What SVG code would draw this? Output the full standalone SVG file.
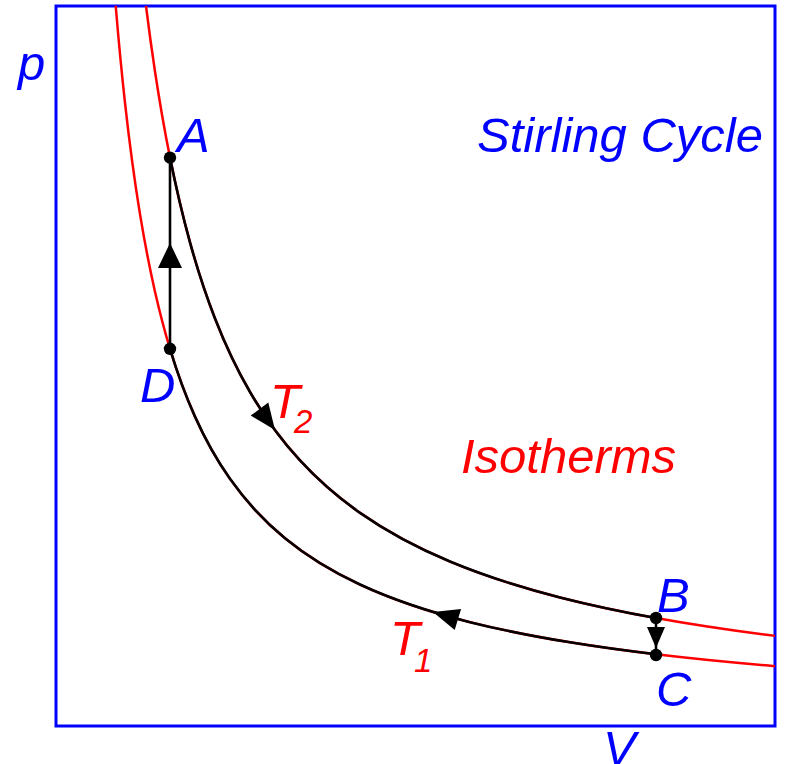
<svg xmlns="http://www.w3.org/2000/svg" width="785" height="764" viewBox="0 0 785 764">
<style>
.lbl{font-family:"Liberation Sans",Arial,sans-serif;font-style:italic;font-size:49px}
.blue{fill:#0000ff}
.red{fill:#ff0000}
.sub{font-size:33px}
.iso{fill:none;stroke:#ff0000;stroke-width:2.5}
.path{fill:none;stroke:#000;stroke-width:2.6}
.arrow{fill:#000}
</style>
<rect x="0" y="0" width="785" height="764" fill="#fff"/>
<g id="frame">
<rect x="56" y="6" width="719" height="720" fill="none" stroke="#0000ff" stroke-width="3"/>
</g>
<g id="isotherms">
<path id="isoT2" class="iso" d="M146,6 C149,30 152,51.61 155,71.45 C160,104.51 165,132.65 170,157.58 C176.67,190.82 183.33,218.36 190,242.42 C198.33,272.5 206.67,297.09 215,318.45 C226.67,348.35 238.33,371.89 250,391.98 C266.67,420.68 283.33,442.3 300,460.43 C320,482.19 340,498.82 360,512.84 C390,533.87 420,549.01 450,561.53 C486.67,576.83 523.33,588.08 560,597.43 C592,605.59 624,612.24 656,618 C695.67,625.14 735.33,630.91 775,635.88"/>
<path id="isoT1" class="iso" d="M115.7,5.73 C118.8,43.13 121.9,74.81 125,102.81 C130,147.97 135,183.63 140,214.1 C145,244.57 150,269.72 155,291.66 C160,313.6 165,332.26 170,348.81 C178.33,376.39 186.67,398.1 195,416.65 C206.67,442.62 218.33,462.3 230,478.87 C248.33,504.9 266.67,523.2 285,538.23 C310,558.73 335,572.92 360,584.55 C396.67,601.61 433.33,612.94 470,622.14 C503.33,630.5 536.67,636.91 570,642.34 C598.67,647.01 627.33,650.91 656,654.33 C695.67,659.07 735.33,662.89 775,666.19"/>
</g>
<g id="connectors">
<path id="AB" class="path" d="M170,157.58 C176.67,190.82 183.33,218.36 190,242.42 C198.33,272.5 206.67,297.09 215,318.45 C226.67,348.35 238.33,371.89 250,391.98 C266.67,420.68 283.33,442.3 300,460.43 C320,482.19 340,498.82 360,512.84 C390,533.87 420,549.01 450,561.53 C486.67,576.83 523.33,588.08 560,597.43 C592,605.59 624,612.24 656,618"/>
<path id="DC" class="path" d="M170,348.81 C178.33,376.39 186.67,398.1 195,416.65 C206.67,442.62 218.33,462.3 230,478.87 C248.33,504.9 266.67,523.2 285,538.23 C310,558.73 335,572.92 360,584.55 C396.67,601.61 433.33,612.94 470,622.14 C503.33,630.5 536.67,636.91 570,642.34 C598.67,647.01 627.33,650.91 656,654.33"/>
<line id="DA" class="path" x1="170" y1="348.8" x2="170" y2="157.6" stroke-width="3"/>
<line id="BC" class="path" x1="656" y1="618" x2="656" y2="654.3"/>
<polygon class="arrow" points="170,243 158,268 182,268"/>
<polygon class="arrow" points="656,648 647,627 665,627"/>
<polygon class="arrow" points="275,430 250.7,415.6 268.3,402.6"/>
<polygon class="arrow" points="433,612 461.1,609 454.7,630"/>
</g>
<g id="nodeA"><circle cx="170" cy="157.6" r="6.2"/><text class="lbl blue" x="177" y="152">A</text></g>
<g id="nodeB"><circle cx="656" cy="618" r="6.2"/><text class="lbl blue" x="657" y="612">B</text></g>
<g id="nodeC"><circle cx="656" cy="655" r="6.2"/><text class="lbl blue" x="656" y="706">C</text></g>
<g id="nodeD"><circle cx="170" cy="348.8" r="6.2"/><text class="lbl blue" x="140" y="402">D</text></g>
<g id="labels">
<text class="lbl blue" x="18" y="80">p</text>
<text class="lbl blue" x="603" y="765">V</text>
<text class="lbl blue" x="477" y="152">Stirling Cycle</text>
<text class="lbl red" x="461" y="473">Isotherms</text>
<text class="lbl red" x="270" y="418">T<tspan class="sub" x="294" y="433">2</tspan></text>
<text class="lbl red" x="390" y="655">T<tspan class="sub" x="414" y="672">1</tspan></text>
</g>
</svg>
